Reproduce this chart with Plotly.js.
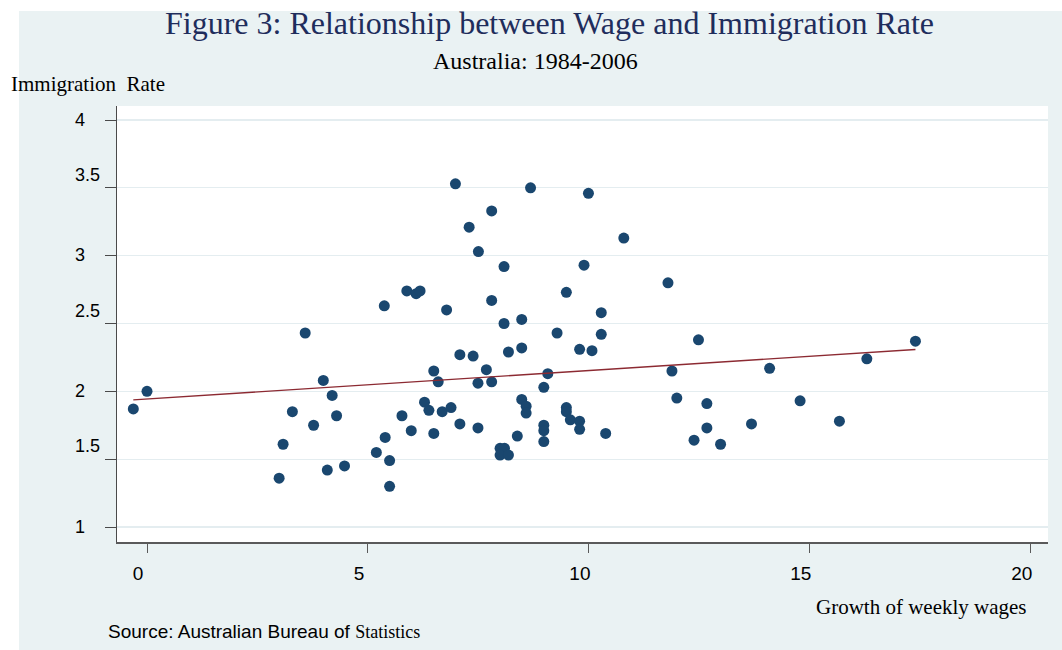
<!DOCTYPE html>
<html>
<head>
<meta charset="utf-8">
<script src="https://cdn.plot.ly/plotly-3.0.1.min.js"></script>
<style>html,body{margin:0;padding:0;background:#fff;}#chart{width:1062px;height:650px;}</style>
</head>
<body>
<div id="chart"></div>
<script>
// Growth of weekly wages (x) and immigration rate (y), Australia 1984-2006
var wageGrowth = [-0.31, 0.00, 2.99, 3.08, 3.29, 3.58, 3.77, 3.99, 4.08, 4.19,
  4.29, 4.47, 5.19, 5.39, 5.37, 5.49, 5.49, 5.77, 5.88, 5.98,
  6.09, 6.18, 6.28, 6.38, 6.49, 6.49, 6.59, 6.68, 6.78, 6.88,
  6.98, 7.08, 7.08, 7.29, 7.38, 7.49, 7.49, 7.50, 7.68, 7.80,
  7.80, 7.80, 7.99, 8.09, 7.99, 8.18, 8.08, 8.08, 8.18, 8.38,
  8.48, 8.48, 8.48, 8.58, 8.58, 8.68, 8.98, 8.98, 8.98, 8.98,
  9.07, 9.28, 9.49, 9.49, 9.49, 9.58, 9.79, 9.79, 9.79, 9.89,
  9.99, 10.07, 10.28, 10.28, 10.38, 10.79, 11.79, 11.88, 11.99, 12.38,
  12.48, 12.67, 12.67, 12.98, 13.68, 14.09, 14.78, 15.67, 16.29, 17.39];
var immigrationRate = [1.87, 2.00, 1.36, 1.61, 1.85, 2.43, 1.75, 2.08, 1.42, 1.97,
  1.82, 1.45, 1.55, 1.66, 2.63, 1.49, 1.30, 1.82, 2.74, 1.71,
  2.72, 2.74, 1.92, 1.86, 2.15, 1.69, 2.07, 1.85, 2.60, 1.88,
  3.53, 2.27, 1.76, 3.21, 2.26, 2.06, 1.73, 3.03, 2.16, 3.33,
  2.67, 2.07, 1.58, 1.58, 1.53, 1.53, 2.92, 2.50, 2.29, 1.67,
  2.53, 2.32, 1.94, 1.89, 1.84, 3.50, 2.03, 1.75, 1.71, 1.63,
  2.13, 2.43, 2.73, 1.88, 1.85, 1.79, 2.31, 1.78, 1.72, 2.93,
  3.46, 2.30, 2.58, 2.42, 1.69, 3.13, 2.80, 2.15, 1.95, 1.64,
  2.38, 1.91, 1.73, 1.61, 1.76, 2.17, 1.93, 1.78, 2.24, 2.37];
var xTicks = [0, 5, 10, 15, 20];
var xTickLabels = ['0', '5', '10', '15', '20'];
var yTicks = [1, 1.5, 2, 2.5, 3, 3.5, 4];
var yTickLabels = ['1', '1.5', '2', '2.5', '3', '3.5', '4'];

var titleText = 'Figure 3: Relationship between Wage and Immigration Rate';
var subtitleText = 'Australia: 1984-2006';
var yTitleText = 'Immigration\u00A0 Rate';
var xTitleText = 'Growth of weekly wages';
var sourceText = 'Source: Australian Bureau of <span style="font-family:Liberation Serif;font-size:18px">Statistics</span>';

// linear fit (least squares) over the data
var n = wageGrowth.length, sx = 0, sy = 0, sxx = 0, sxy = 0;
for (var i = 0; i < n; i++) { sx += wageGrowth[i]; sy += immigrationRate[i]; sxx += wageGrowth[i]*wageGrowth[i]; sxy += wageGrowth[i]*immigrationRate[i]; }
var slope = (n*sxy - sx*sy) / (n*sxx - sx*sx);
var intercept = (sy - slope*sx) / n;
var xmin = Math.min.apply(null, wageGrowth), xmax = Math.max.apply(null, wageGrowth);
var fitX = [xmin, xmax];
var fitY = fitX.map(function (v) { return intercept + slope*v; });

var W = 1062, H = 650, ML = 117, MR = 14, MT = 106, MB = 108;
var PW = W - ML - MR, PH = H - MT - MB;
function px(xp) { return (xp - ML) / PW; }
function py(yp) { return (H - MB - yp) / PH; }

var serif = 'Liberation Serif, Times New Roman, serif';
var sans = 'Liberation Sans, Arial, sans-serif';

var annotations = [
  {text: subtitleText, xref: 'paper', yref: 'paper', x: px(535.5), y: py(61.5), xanchor: 'center', yanchor: 'middle', showarrow: false, font: {family: serif, size: 24, color: '#000'}, borderpad: 0, borderwidth: 0},
  {text: yTitleText, xref: 'paper', yref: 'paper', x: px(11), y: py(84.5), xanchor: 'left', yanchor: 'middle', showarrow: false, font: {family: serif, size: 21, color: '#000'}, borderpad: 0, borderwidth: 0},
  {text: xTitleText, xref: 'paper', yref: 'paper', x: px(1027), y: py(606.5), xanchor: 'right', yanchor: 'middle', showarrow: false, font: {family: serif, size: 21, color: '#000'}, borderpad: 0, borderwidth: 0},
  {text: sourceText, xref: 'paper', yref: 'paper', x: px(107.5), y: py(631.3), xanchor: 'left', yanchor: 'middle', showarrow: false, font: {family: sans, size: 19, color: '#000'}, borderpad: 0, borderwidth: 0}
];
yTicks.forEach(function (v, k) {
  var half = yTickLabels[k].indexOf('.') >= 0;
  annotations.push({text: yTickLabels[k], xref: 'paper', yref: 'y', x: px(74.5), y: v, yshift: half ? 13 : 0.5,
    xanchor: 'left', yanchor: 'middle', showarrow: false, font: {family: sans, size: 18, color: '#000'}, borderpad: 0, borderwidth: 0});
});

var shapes = [
  {type: 'rect', xref: 'paper', yref: 'paper', x0: px(-5), x1: px(19), y0: py(660), y1: py(-5), fillcolor: '#ffffff', line: {width: 0}, layer: 'above'},
  {type: 'rect', xref: 'paper', yref: 'paper', x0: px(-5), x1: px(1070), y0: py(11), y1: py(-5), fillcolor: '#ffffff', line: {width: 0}, layer: 'above'}
];

var traces = [
  {x: wageGrowth, y: immigrationRate, type: 'scatter', mode: 'markers',
   marker: {color: '#1a476f', size: 11, line: {width: 0}}, hoverinfo: 'x+y', showlegend: false},
  {x: fitX, y: fitY, type: 'scatter', mode: 'lines',
   line: {color: '#8c2a32', width: 1.4}, hoverinfo: 'skip', showlegend: false}
];

var layout = {
  width: W, height: H,
  margin: {l: ML, r: MR, t: MT, b: MB, pad: 0},
  paper_bgcolor: '#eaf2f3', plot_bgcolor: '#ffffff',
  showlegend: false,
  title: {text: titleText, xref: 'container', yref: 'container', x: 549.5 / W, y: 1 - 22.8 / H, xanchor: 'center', yanchor: 'middle',
          font: {family: serif, size: 32, color: '#1f2d5c'}},
  xaxis: {range: [-0.679, 20.39], tickmode: 'array', tickvals: xTicks, ticktext: xTickLabels,
          showgrid: false, zeroline: false, showline: true, linecolor: '#5a5a5a', linewidth: 2,
          ticks: 'outside', ticklen: 9, tickwidth: 1, tickcolor: '#5a5a5a',
          tickfont: {family: sans, size: 19, color: '#000'}, ticklabelshift: -9, ticklabelstandoff: 4, fixedrange: true},
  yaxis: {range: [0.8894, 4.1033], tickmode: 'array', tickvals: yTicks, showticklabels: false,
          showgrid: true, gridcolor: '#e4edf0', gridwidth: 1.2, zeroline: false,
          showline: true, linecolor: '#4a4a4a', linewidth: 1.3,
          ticks: 'outside', ticklen: 11, tickwidth: 1, tickcolor: '#4a4a4a', fixedrange: true},
  annotations: annotations,
  shapes: shapes
};

Plotly.newPlot('chart', traces, layout, {displayModeBar: false, staticPlot: true});
</script>
</body>
</html>
